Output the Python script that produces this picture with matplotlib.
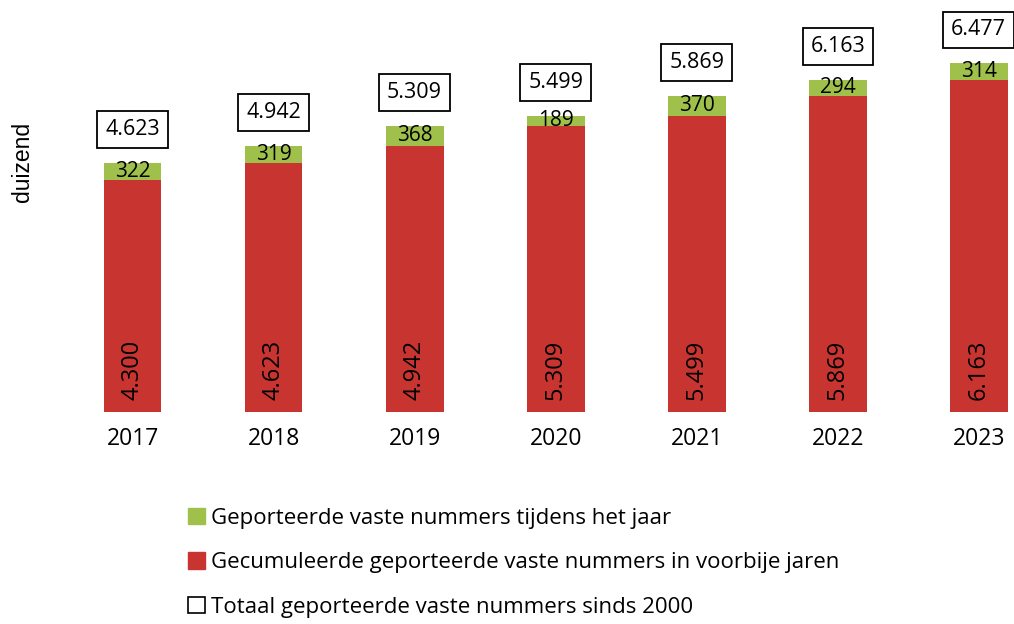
import numpy as np
import matplotlib.pyplot as plt
from matplotlib.patches import Patch

plt.rcParams['font.family'] = ['Open Sans', 'DejaVu Sans']

years = ['2017', '2018', '2019', '2020', '2021', '2022', '2023']
vorige = [4300, 4623, 4942, 5309, 5499, 5869, 6163]
dit_jaar = [322, 319, 368, 189, 370, 294, 314]
totaal = [4623, 4942, 5309, 5499, 5869, 6163, 6477]

groen = '#9fc14c'
rood = '#c83531'

fig = plt.figure(figsize=(10.14, 6.24), dpi=100)
ax = fig.add_axes([62 / 1014, 212 / 624, 952 / 1014, 404 / 624])

x = np.arange(len(years))
ax.bar(x, vorige, width=0.41, color=rood)
ax.bar(x, dit_jaar, bottom=vorige, width=0.41, color=groen)

for i in range(len(years)):
    # getal onderin de rode balk, gedraaid
    ax.annotate(f'{vorige[i]:,}'.replace(',', '.'), (x[i], 0), xytext=(0, 9),
                textcoords='offset points', rotation=90, ha='center', va='bottom',
                fontsize=17)
    # groene stuk
    ax.text(x[i], vorige[i] + dit_jaar[i] / 2, str(dit_jaar[i]), ha='center',
            va='center', fontsize=15)
    # totaal in een kader
    ax.annotate(f'{totaal[i]:,}'.replace(',', '.'), (x[i], totaal[i]), xytext=(0, 24),
                textcoords='offset points', ha='center', va='center', fontsize=15.5,
                bbox=dict(boxstyle='square,pad=0.36', fc='white', ec='black', lw=1.3))

ax.set_xlim(-0.5, 6.25)
ax.set_ylim(0, 7500)
ax.set_xticks(x)
ax.set_xticklabels(years, fontsize=16.5)
ax.tick_params(axis='x', length=0, pad=11)
ax.set_yticks([])
for s in ax.spines.values():
    s.set_visible(False)

fig.text(22 / 1014, 1 - 162 / 624, 'duizend', rotation=90, ha='center', va='center',
         fontsize=16.5, family=['Liberation Sans', 'DejaVu Sans'])

handles = [Patch(fc=groen, ec=groen), Patch(fc=rood, ec=rood),
           Patch(fc='white', ec='black', lw=1.2)]
labels = ['Geporteerde vaste nummers tijdens het jaar',
          'Gecumuleerde geporteerde vaste nummers in voorbije jaren',
          'Totaal geporteerde vaste nummers sinds 2000']
fig.legend(handles, labels, loc='upper left', bbox_to_anchor=(168 / 1014, 1 - 488 / 624),
           frameon=False, fontsize=16, handlelength=0.75, handleheight=0.75,
           handletextpad=0.3, labelspacing=1.05)

fig.savefig('out.png', dpi=100)
